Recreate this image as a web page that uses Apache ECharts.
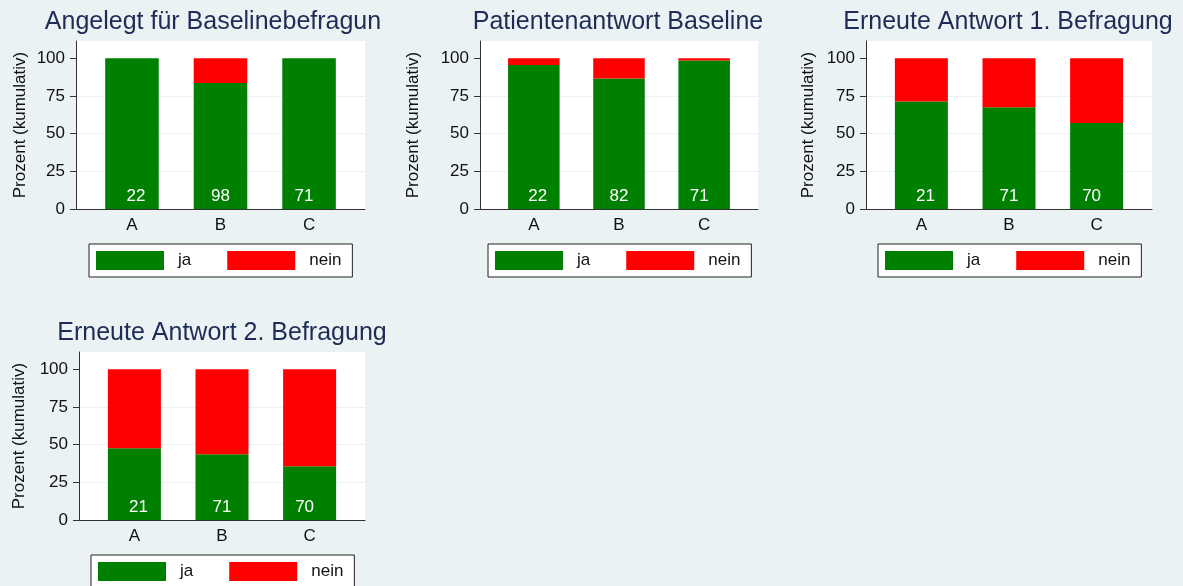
<!DOCTYPE html>
<html>
<head>
<meta charset="utf-8">
<script src="https://cdn.jsdelivr.net/npm/echarts@6/dist/echarts.min.js"></script>
<style>
  html, body { margin: 0; padding: 0; background: #eaf2f3; }
  #chart { width: 1183px; height: 586px; }
</style>
</head>
<body>
<div id="chart"></div>
<script>
  // Kategorien und Werte (Prozent kumulativ), je Teilgrafik
  const categories = ['A', 'B', 'C']
  const titles = [
    'Angelegt für Baselinebefragun',
    'Patientenantwort Baseline',
    'Erneute Antwort 1. Befragung',
    'Erneute Antwort 2. Befragung'
  ]
  const ja1 = [100, 83.7, 100]
  const nein1 = [0, 16.3, 0]
  const n1 = [22, 98, 71]
  const ja2 = [95.5, 86.6, 98.6]
  const nein2 = [4.5, 13.4, 1.4]
  const n2 = [22, 82, 71]
  const ja3 = [71.4, 67.6, 57.1]
  const nein3 = [28.6, 32.4, 42.9]
  const n3 = [21, 71, 70]
  const ja4 = [47.6, 43.7, 35.7]
  const nein4 = [52.4, 56.3, 64.3]
  const n4 = [21, 71, 70]
  const yTicks = [0, 25, 50, 75, 100]

  const panelData = [
    { ja: ja1, nein: nein1, n: n1 },
    { ja: ja2, nein: nein2, n: n2 },
    { ja: ja3, nein: nein3, n: n3 },
    { ja: ja4, nein: nein4, n: n4 }
  ]

  // Lage der Teilgrafiken (Pixel)
  const layout = [
    { left: 76, top: 41, width: 289, titleX: 213, titleY: 10, nameGap: 47, legendX: 89, legendY: 244 },
    { left: 480, top: 41, width: 278, titleX: 618, titleY: 10, nameGap: 58, legendX: 488, legendY: 244 },
    { left: 866, top: 41, width: 286, titleX: 1008, titleY: 10, nameGap: 49, legendX: 878, legendY: 244 },
    { left: 79, top: 352, width: 286, titleX: 222, titleY: 321, nameGap: 51, legendX: 91, legendY: 555 }
  ]
  const plotHeight = 168
  const yMax = 111.5
  // Rand links/rechts im Verhältnis zum Balkenabstand (wie bei Stata)
  const outerMargin = 0.632
  const labelOffsets = [4, 0, -5]

  const GREEN = '#008000'
  const RED = '#ff0000'
  const AXIS = '#333333'
  const GRIDLINE = '#eaf2f3'
  const FONT = 'Liberation Sans, Arial, sans-serif'

  const chart = echarts.init(document.getElementById('chart'))

  const option = {
    backgroundColor: '#eaf2f3',
    animation: false,
    textStyle: { fontFamily: FONT },
    title: [],
    grid: [],
    xAxis: [],
    yAxis: [],
    legend: [],
    series: []
  }

  layout.forEach((p, i) => {
    const spacing = p.width / (2 * outerMargin + 2)
    const d = panelData[i]
    const bg = 2 * i
    const fg = 2 * i + 1

    option.title.push({
      text: titles[i],
      left: p.titleX,
      top: p.titleY,
      textAlign: 'center',
      padding: 0,
      textStyle: { fontSize: 25, fontWeight: 'normal', color: '#1f2d56', fontFamily: FONT }
    })

    // Hintergrund-Raster: weiße Fläche, Achsen, Gitterlinien
    option.grid.push({
      left: p.left,
      top: p.top,
      width: p.width,
      height: plotHeight,
      show: true,
      backgroundColor: '#ffffff',
      borderWidth: 0
    })
    // Raster für die Balken (Kategorien)
    option.grid.push({
      left: p.left + (outerMargin - 0.5) * spacing,
      top: p.top,
      width: 3 * spacing,
      height: plotHeight,
      show: false
    })

    option.xAxis.push({
      type: 'category',
      gridIndex: bg,
      data: [''],
      axisLine: { show: true, onZero: false, lineStyle: { color: AXIS, width: 1 } },
      axisTick: { show: false },
      axisLabel: { show: false },
      splitLine: { show: false }
    })
    option.xAxis.push({
      type: 'category',
      gridIndex: fg,
      data: categories,
      axisLine: { show: false },
      axisTick: { show: false },
      splitLine: { show: false },
      axisLabel: { color: '#111', fontSize: 17, margin: 8 }
    })

    option.yAxis.push({
      type: 'value',
      gridIndex: bg,
      min: 0,
      max: yMax,
      interval: 25,
      name: 'Prozent (kumulativ)',
      nameLocation: 'middle',
      nameGap: p.nameGap,
      nameTextStyle: { fontSize: 17, color: '#111' },
      axisLine: { show: true, lineStyle: { color: AXIS, width: 1 } },
      axisTick: { show: true, customValues: yTicks, length: 6, lineStyle: { color: AXIS } },
      axisLabel: { customValues: yTicks, fontSize: 17, color: '#111', margin: 11 },
      splitLine: { show: true, showMinLine: false, showMaxLine: false, lineStyle: { color: GRIDLINE, width: 1 } }
    })
    option.yAxis.push({
      type: 'value',
      gridIndex: fg,
      min: 0,
      max: yMax,
      show: false,
      splitLine: { show: false }
    })

    option.legend.push({
      data: ['ja', 'nein'],
      left: p.legendX,
      top: p.legendY,
      orient: 'horizontal',
      icon: 'rect',
      itemWidth: 68,
      itemHeight: 19,
      itemGap: 36,
      padding: [7, 11, 7, 7],
      backgroundColor: '#ffffff',
      borderColor: '#222',
      borderWidth: 1,
      borderRadius: 0,
      selectedMode: false,
      textStyle: { fontSize: 17, color: '#111', padding: [0, 0, 0, 9] }
    })

    option.series.push({
      name: 'ja',
      type: 'bar',
      xAxisIndex: fg,
      yAxisIndex: fg,
      stack: 'p' + i,
      barWidth: '60.5%',
      itemStyle: { color: GREEN },
      data: d.ja.map((v, k) => ({
        value: v,
        label: { offset: [labelOffsets[k], 0] }
      })),
      label: {
        show: true,
        position: 'insideBottom',
        distance: 4,
        color: '#ffffff',
        fontSize: 17,
        formatter: (params) => String(d.n[params.dataIndex])
      }
    })
    option.series.push({
      name: 'nein',
      type: 'bar',
      xAxisIndex: fg,
      yAxisIndex: fg,
      stack: 'p' + i,
      barWidth: '60.5%',
      itemStyle: { color: RED },
      data: d.nein
    })
  })

  chart.setOption(option)
</script>
</body>
</html>
